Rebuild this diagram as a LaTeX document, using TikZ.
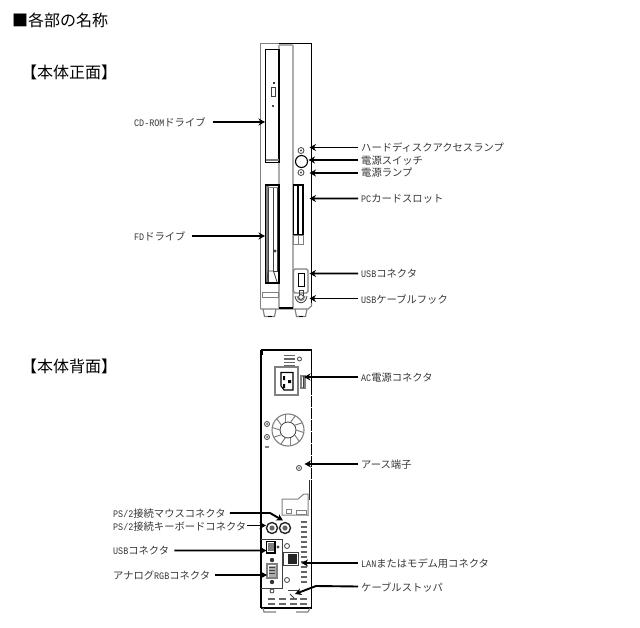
\documentclass[tikz,border=0pt]{standalone}
\usepackage{fontspec}
\setmainfont{Noto Sans CJK JP}
\newfontfamily\latf[FakeStretch=0.84]{Liberation Mono}
\newcommand{\lat}[1]{{\fontsize{10bp}{12bp}\latf #1}}
\usetikzlibrary{arrows.meta}
\definecolor{txt}{gray}{0.22}
\definecolor{gl}{gray}{0.5}
\definecolor{lg}{gray}{0.68}
\tikzset{
 lab/.style={anchor=west,inner sep=0pt,text=txt,font=\fontsize{10.3bp}{12bp}\selectfont,text height=9bp,text depth=2bp},
 head/.style={anchor=west,inner sep=0pt,text=black,font=\fontsize{16bp}{18bp}\selectfont,text height=13bp,text depth=3bp},
 arr/.style={line width=1.9bp,-{Stealth[length=6.5bp,width=7bp]}},
 blk/.style={draw=black,line width=1.1bp},
 gry/.style={draw=gl,line width=1.1bp},
 thn/.style={draw=black!75,line width=0.8bp},
 lgt/.style={draw=lg,line width=1.6bp},
 ven/.style={draw=black!60,line width=1.3bp},
}
\begin{document}
\begin{tikzpicture}[x=1bp,y=-1bp]
\useasboundingbox (0,0) rectangle (640,628);
\fill[white] (0,0) rectangle (640,628);
% headings
\node[head] (title) at (12,22) {■各部の名称};
\node[head] (hfront) at (21,74) {【本体正面】};
\node[head] (hback) at (21,367) {【本体背面】};
% ---------- FRONT ----------
\draw[gry] (260.5,309) -- (260.5,43.5) -- (279,43.5);
\draw[blk] (279,43.5) -- (311.5,43.5) -- (311.5,303);
\draw[gry] (311.5,303) -- (311.5,306) -- (308,309) -- (260.5,309);
\draw[lgt] (279,45) -- (279,308) (293,45) -- (293,308) (279,45) -- (293,45);
\draw[blk] (279,308) -- (293,308);
% CD drive
\draw[blk] (279,49.5) -- (265.5,49.5) -- (265.5,162.5) -- (279,162.5) -- cycle;
\draw[gl,line width=1.4bp] (266,160) -- (279,160);
\draw[thn] (271,87) rectangle (275,96);
\fill[black!80] (273,82) rectangle (274.5,84);
\fill[black!70] (272,105) rectangle (273.5,107);
% lamps
\draw[thn] (301,150.5) circle (3);
\draw[blk] (301.5,161.5) circle (6);
\draw[thn] (301,172.5) circle (3);
\fill[black!70] (301,150.5) circle (1.2);
\fill[black!70] (301,172.5) circle (1.2);
% FD drive
\draw[blk] (265.5,185) rectangle (279,283);
\fill[gl] (266,186) rectangle (268.5,282);
\draw[gl,line width=1.2bp] (267,187.5) -- (278,187.5);
\draw[thn] (268,188) -- (268,282) (273.5,188) -- (273.5,271) -- (277,271) -- (277,188);
\draw[thn] (267,282) -- (268,271) -- (273.5,271) -- (277,282);
\draw[thn] (275,251) circle (1);
% small panel
\draw[gl,line width=.9bp] (262,292) rectangle (278,297);
% PC card
\draw[blk] (293.5,185) rectangle (303,235);
\draw[blk] (298,185) -- (298,235);
\draw[gl,line width=.9bp] (293.5,235) rectangle (303,244);
\draw[gl,line width=.9bp] (298,235) -- (298,244);
% USB
\draw[gry,rounded corners=1.5bp] (293.5,269) rectangle (308,293);
\draw[black,line width=1.6bp] (298.5,273.5) rectangle (304.5,286.5);
% hook
\draw[thn] (295,296) .. controls (296,305) and (306,305) .. (307,296);
\draw[gry] (297,296) .. controls (298,302) and (304,302) .. (305,296);
\draw[thn] (299,296) -- (299,290) -- (303,290) -- (303,296);
\draw[thn] (301,297) circle (2.4);
% feet
\draw[gry] (263,309) -- (264.5,316.5) -- (274.5,316.5) -- (276,309);
\draw[gry] (295,309) -- (296.5,316.5) -- (305.5,316.5) -- (307,309);
\draw[blk] (268,316.5) -- (272,316.5) (299,316.5) -- (303,316.5);
% front labels and arrows
\coordinate (tcd) at (265,122);
\coordinate (tfd) at (265,236);
\coordinate (thd) at (309.5,147.5);
\coordinate (tpw) at (308.5,160);
\coordinate (tlp) at (309.5,173);
\coordinate (tpc) at (309.5,198.5);
\coordinate (tus) at (309.5,273.5);
\coordinate (thk) at (309.5,298.5);
\node[lab] (lcd) at (134,123) {\lat{CD-ROM}ドライブ};
\node[lab] (lfd) at (134,237) {\lat{FD}ドライブ};
\node[lab] (lhd) at (361,148.5) {ハードディスクアクセスランプ};
\node[lab] (lpw) at (361,161) {電源スイッチ};
\node[lab] (llp) at (361,173.5) {電源ランプ};
\node[lab] (lpc) at (361,199) {\lat{PC}カードスロット};
\node[lab] (lus) at (361,274) {\lat{USB}コネクタ};
\node[lab] (lhk) at (361,299.5) {\lat{USB}ケーブルフック};
\draw[arr] ([xshift=7bp,yshift=1bp]lcd.east) -- (tcd);
\draw[arr] ([xshift=6bp,yshift=1bp]lfd.east) -- (tfd);
\draw[arr] ([xshift=-3bp,yshift=1bp]lhd.west) -- (thd);
\draw[arr] ([xshift=-3bp,yshift=1bp]lpw.west) -- (tpw);
\draw[arr] ([xshift=-3bp,yshift=.5bp]llp.west) -- (tlp);
\draw[arr] ([xshift=-3bp,yshift=.5bp]lpc.west) -- (tpc);
\draw[arr] ([xshift=-3bp,yshift=.5bp]lus.west) -- (tus);
\draw[arr] ([xshift=-3bp,yshift=1bp]lhk.west) -- (thk);
% ---------- BACK ----------
\draw[blk] (261,608) -- (261,350);
\draw[black,line width=1.6bp] (261,350) -- (312,350);
\fill[black] (261,350) rectangle (263,355);
\draw[blk] (311.5,350) -- (311.5,608);
\draw[blk] (261,608) -- (311.5,608);
\draw[white,line width=1.2bp,dash pattern=on 1bp off 11bp] (311.5,395) -- (311.5,480);
% top vents
\foreach \yy in {355.5,359,362.5,366}{\draw[ven] (283.5,\yy) -- (295,\yy);}
\draw[thn] (299.5,359) circle (2);
% AC
\draw[gry] (275,367) rectangle (298,395);
\draw[blk] (281,372.5) -- (293,372.5) -- (293,390) -- (284,390) -- (281,386) -- cycle;
\fill[black] (283,376) rectangle (285,380) (283,384) rectangle (285,388) (288,380) rectangle (291,383);
\draw[gry] (301,376) rectangle (305,388);
\draw[thn] (303,376) -- (303,388);
% fan
\draw[gry] (288,430) circle (16);
\draw[thn] (288,430) circle (8);
\foreach \a in {0,36,...,324}{\draw[gl,line width=1bp] (288,430) ++(\a:8) -- ++(\a+18:8);}
% screws
\draw[thn] (267,424) circle (2.5);
\fill[black!70] (267,424) circle (1);
\draw[thn] (267,437) circle (2.5);
\fill[black!70] (267,437) circle (1);
\draw[gl,line width=1.2bp] (265,447) -- (269,447);
\draw[thn] (299,468) circle (2.5);
\fill[black!70] (299,468) circle (.9);
% card bracket
\draw[gl,line width=1bp] (282,499) -- (298,499) -- (304,494) -- (308,494) -- (308,516) (282,499) -- (282,515) -- (308,515);
\draw[gl,line width=1bp] (286,509) rectangle (291,513) (296,510) -- (306,510) -- (306,514) -- (296,514) -- cycle;
\draw[black!80,line width=1bp] (309,480) -- (309,500);
% PS/2
\draw[black!85,line width=1.4bp] (272,528) circle (5.5);
\draw[black!85,line width=1.4bp] (285,528) circle (5.5);
\fill[black!60] (272,528) circle (2.6);
\fill[black!60] (285,528) circle (2.6);
% IO block
\draw[thn] (261,539) -- (282,539) -- (282,588) -- (261,588);
\draw[black,line width=1.2bp] (266.5,541.5) rectangle (275,553);
\fill[gl] (268,543) rectangle (273.5,551);
\draw[thn] (278,547) circle (1);
% VGA
\draw[gry] (267,564) -- (277,564) -- (277,578) -- (267,578) -- cycle;
\fill[lg] (268.5,565.5) rectangle (275.5,576.5);
\draw[thn] (269,567) -- (275,567) (269,570) -- (275,570) (269,573) -- (275,573);
\fill[black!80] (272,560) circle (2.2);
\fill[black!80] (272,582) circle (2.2);
% LAN
\draw[thn] (283,552) rectangle (298,565);
\fill[black!85] (288,553.5) rectangle (296.5,563.5);
\draw[thn] (287,546) circle (2.5);
\draw[thn] (287,580) circle (2.5);
\draw[thn] (272,591) circle (2);
% side vents
\foreach \yy in {522,527,...,582}{\draw[ven] (300.5,\yy) -- (306.5,\yy);}
% bottom vents
\foreach \yy in {599,604}{\foreach \xa/\xb in {268/275,279/286,290/297,300/307}{\draw[ven] (\xa,\yy) -- (\xb,\yy);}}
% stopper
\draw[thn] (288,590) -- (298,590);
\draw[thn] (290,594) -- (294,598);
% back feet
\draw[gry] (263,608) -- (264,612) -- (276,612);
\draw[gry] (296,612) -- (308,612) -- (310,608);
% back labels and arrows
\coordinate (tac) at (304,377);
\coordinate (tea) at (304.5,464);
\coordinate (tln) at (301.5,563);
\coordinate (tst) at (295,594);
\coordinate (bst) at (316,586);
\coordinate (tms) at (283,520.5);
\coordinate (bms) at (270,513);
\coordinate (tkb) at (266,525.5);
\coordinate (tub) at (266.5,550.5);
\coordinate (tvg) at (267,575);
\node[lab] (lac) at (361,378) {\lat{AC}電源コネクタ};
\node[lab] (lea) at (361,465) {アース端子};
\node[lab] (lln) at (361,564) {\lat{LAN}またはモデム用コネクタ};
\node[lab] (lst) at (361,587.5) {ケーブルストッパ};
\node[lab] (lms) at (113,514) {\lat{PS/2}接続マウスコネクタ};
\node[lab] (lkb) at (113,526.5) {\lat{PS/2}接続キーボードコネクタ};
\node[lab] (lub) at (113,551) {\lat{USB}コネクタ};
\node[lab] (lvg) at (113,576) {アナログ\lat{RGB}コネクタ};
\draw[arr] ([xshift=-3bp,yshift=1bp]lac.west) -- (tac);
\draw[arr] ([xshift=-3bp,yshift=1bp]lea.west) -- (tea);
\draw[arr] ([xshift=-3bp,yshift=1bp]lln.west) -- (tln);
\draw[arr] ([xshift=-3bp,yshift=1bp]lst.west) -- (bst) -- (tst);
\draw[arr] ([xshift=4bp,yshift=1bp]lms.east) -- (bms) -- (tms);
\draw[arr] ([xshift=1bp,yshift=1bp]lkb.east) -- (tkb);
\draw[arr] ([xshift=5bp,yshift=.5bp]lub.east) -- (tub);
\draw[arr] ([xshift=5bp,yshift=1bp]lvg.east) -- (tvg);
\end{tikzpicture}
\end{document}
